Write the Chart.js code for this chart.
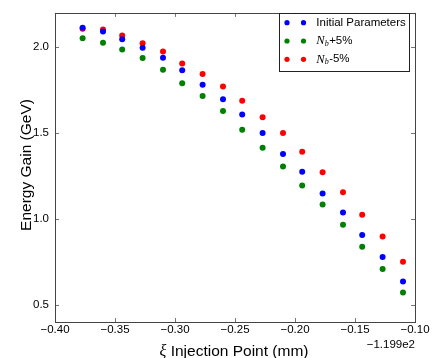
<!DOCTYPE html>
<html><head><meta charset="utf-8">
<script src="https://cdn.jsdelivr.net/npm/chart.js@4/dist/chart.umd.min.js"></script>
<style>html,body{margin:0;padding:0;background:#fff;overflow:hidden}</style>
</head><body>
<canvas id="c" width="432" height="358"></canvas>
<script>
// ---- data ----
const xPositions = [-0.377,-0.360,-0.344,-0.327,-0.310,-0.294,-0.277,-0.260,-0.244,-0.227,-0.210,-0.194,-0.177,-0.160,-0.144,-0.127,-0.110];
const initialParams = [2.114,2.091,2.046,1.997,1.939,1.866,1.782,1.697,1.609,1.501,1.378,1.275,1.149,1.038,0.907,0.778,0.636];
const nbPlus5 = [2.052,2.026,1.987,1.938,1.869,1.790,1.716,1.629,1.520,1.415,1.305,1.195,1.084,0.966,0.838,0.708,0.572];
const nbMinus5 = [2.107,2.103,2.069,2.023,1.975,1.906,1.844,1.772,1.689,1.592,1.501,1.391,1.272,1.155,1.025,0.898,0.751];
const xTicks = [-0.40,-0.35,-0.30,-0.25,-0.20,-0.15,-0.10];
const yTicks = [0.5,1.0,1.5,2.0];
const seriesLabels = ['Initial Parameters','N_b+5%','N_b-5%'];
const xTitleText = 'Injection Point (mm)';
const xTitleSymbol = 'ξ';
const yTitleText = 'Energy Gain (GeV)';
const xOffsetText = '\u22121.199e2';

const colors = ['#0000ff','#008000','#ff0000'];
const SANS = '"Liberation Sans", Arial, sans-serif';
const SERIF = '"Liberation Serif", "DejaVu Serif", serif';
const fmtMinus = v => (v < 0 ? '\u2212' : '') + Math.abs(v).toFixed(2);

function pts(ys){ return ys.map((y,i)=>({x:xPositions[i], y})); }

const decor = {
  id:'decor',
  afterDraw(chart){
    const ctx = chart.ctx, ca = chart.chartArea;
    const xs = chart.scales.x, ys = chart.scales.y;
    ctx.save();
    // inward ticks on all sides
    ctx.strokeStyle = '#777'; ctx.lineWidth = 1;
    const TL = 4;
    ctx.beginPath();
    xTicks.forEach(v=>{
      const px = Math.round(xs.getPixelForValue(v)) + 0.5;
      ctx.moveTo(px, ca.bottom); ctx.lineTo(px, ca.bottom - TL);
      ctx.moveTo(px, ca.top); ctx.lineTo(px, ca.top + TL);
    });
    yTicks.forEach(v=>{
      const py = Math.round(ys.getPixelForValue(v)) + 0.5;
      ctx.moveTo(ca.left, py); ctx.lineTo(ca.left + TL, py);
      ctx.moveTo(ca.right, py); ctx.lineTo(ca.right - TL, py);
    });
    ctx.stroke();
    // frame
    ctx.strokeStyle = '#444'; ctx.lineWidth = 1;
    ctx.strokeRect(Math.round(ca.left)+0.5, Math.round(ca.top)+0.5, Math.round(ca.right-ca.left), Math.round(ca.bottom-ca.top));
    ctx.fillStyle = '#000';
    // offset text
    ctx.font = '11.5px ' + SANS; ctx.textAlign = 'right'; ctx.textBaseline = 'alphabetic';
    ctx.fillText(xOffsetText, ca.right, 348);
    // x title
    const tf = '15.5px ' + SANS, sf = 'italic 16px ' + SERIF;
    ctx.font = sf; const w1 = ctx.measureText(xTitleSymbol).width;
    ctx.font = tf; const w2 = ctx.measureText(' ' + xTitleText).width;
    let x0 = 234 - (w1 + w2) / 2;
    ctx.textAlign = 'left';
    ctx.font = sf; ctx.fillText(xTitleSymbol, x0, 355.5);
    ctx.font = tf; ctx.fillText(' ' + xTitleText, x0 + w1, 355.5);
    // y title
    ctx.save();
    ctx.translate(30.5, 165); ctx.rotate(-Math.PI/2);
    ctx.textAlign = 'center'; ctx.font = tf;
    ctx.fillText(yTitleText, 0, 0);
    ctx.restore();
    // legend
    const L = 279.5, T = 13.5, R = 409.5, B = 71.5;
    ctx.fillStyle = '#fff'; ctx.fillRect(L, T, R-L, B-T);
    ctx.strokeStyle = '#222'; ctx.strokeRect(L, T, R-L, B-T);
    const rowsY = [22.7, 41, 59.3];
    seriesLabels.forEach((lab, i)=>{
      const y = rowsY[i];
      ctx.fillStyle = colors[i];
      [287, 303.5].forEach(mx=>{ ctx.beginPath(); ctx.arc(mx, y, 2.6, 0, Math.PI*2); ctx.fill(); });
      ctx.fillStyle = '#000'; ctx.textBaseline = 'middle'; ctx.textAlign = 'left';
      let tx = 316.3;
      if (lab.startsWith('N_b')) {
        ctx.font = 'italic 12.5px ' + SERIF; ctx.fillText('N', tx, y);
        tx += ctx.measureText('N').width;
        ctx.font = 'italic 8px ' + SERIF; ctx.fillText('b', tx, y + 3);
        tx += ctx.measureText('b').width + 0.5;
        ctx.font = '11.5px ' + SANS; ctx.fillText(lab.slice(3), tx, y);
      } else {
        ctx.font = '11.5px ' + SANS; ctx.fillText(lab, tx, y);
      }
    });
    ctx.restore();
  }
};

new Chart(document.getElementById('c'), {
  type: 'scatter',
  data: { datasets: [
    { label: seriesLabels[0], data: pts(initialParams), backgroundColor: colors[0], borderColor: colors[0] },
    { label: seriesLabels[1], data: pts(nbPlus5), backgroundColor: colors[1], borderColor: colors[1] },
    { label: seriesLabels[2], data: pts(nbMinus5), backgroundColor: colors[2], borderColor: colors[2] }
  ]},
  options: {
    responsive: false, animation: false, devicePixelRatio: 1,
    layout: { padding: { top: 7, right: 17, left: 0, bottom: 0 } },
    elements: { point: { radius: 3, borderWidth: 0, hoverRadius: 3 } },
    plugins: { legend: { display: false }, tooltip: { enabled: false } },
    scales: {
      x: {
        type: 'linear', min: -0.40, max: -0.10,
        afterBuildTicks: s => { s.ticks = xTicks.map(v => ({ value: v })); },
        afterFit: s => { s.height = 36; },
        grid: { display: false, drawTicks: false },
        border: { display: false },
        ticks: { padding: 1, color: '#000', font: { family: SANS, size: 11.5 }, callback: v => fmtMinus(v), maxRotation: 0, autoSkip: false }
      },
      y: {
        type: 'linear', min: 0.4, max: 2.2,
        afterBuildTicks: s => { s.ticks = yTicks.map(v => ({ value: v })); },
        afterFit: s => { s.width = 55; },
        grid: { display: false, drawTicks: false },
        border: { display: false },
        ticks: { padding: 6, color: '#000', font: { family: SANS, size: 11.5 }, callback: v => Number(v).toFixed(1), autoSkip: false }
      }
    }
  },
  plugins: [decor]
});
</script>
</body></html>
